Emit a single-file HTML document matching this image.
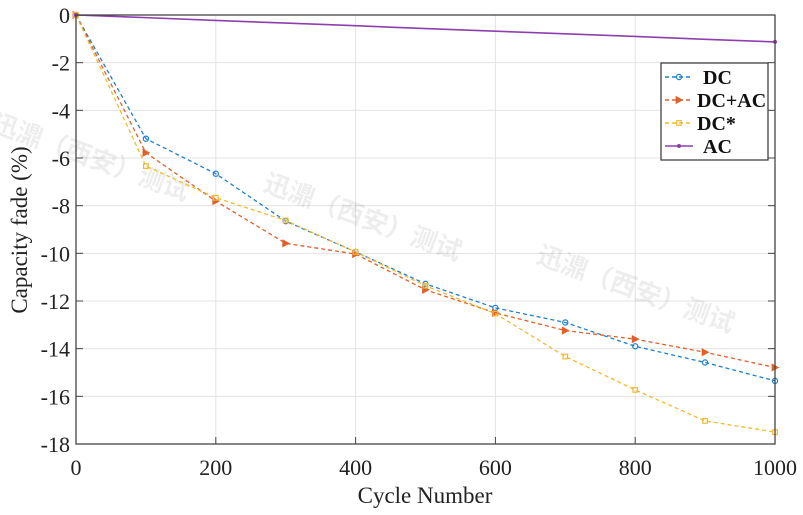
<!DOCTYPE html>
<html><head><meta charset="utf-8"><style>
body{margin:0;background:#fff;width:803px;height:515px;overflow:hidden}
svg{display:block;font-family:"Liberation Serif",serif}
</style></head><body>
<svg id="chart" width="803" height="515" viewBox="0 0 803 515">
<g id="grid"></g>
<g id="wm" font-family="'Liberation Sans','Noto Sans CJK SC',sans-serif" font-weight="bold" font-size="26" fill="#000" fill-opacity="0.07">
<text transform="translate(-10,130) rotate(20)">迅濎（西安）测试</text>
<text transform="translate(262,190) rotate(20)">迅濎（西安）测试</text>
<text transform="translate(535,262) rotate(20)">迅濎（西安）测试</text>
</g>
<g id="series"></g>
<rect x="76" y="15" width="699" height="429" fill="none" stroke="#444" stroke-width="1.3"/>
<g id="ticks" font-size="22" fill="#222"></g>
<text x="425" y="503" text-anchor="middle" font-size="23" fill="#222">Cycle Number</text>
<text transform="translate(27,230) rotate(-90)" text-anchor="middle" font-size="23" fill="#222">Capacity fade (%)</text>
<g id="legend"></g>
</svg>
<script>
const cycles=[0,100,200,300,400,500,600,700,800,900,1000];
const dcVals=[0,-5.19,-6.66,-8.65,-9.94,-11.28,-12.29,-12.9,-13.9,-14.58,-15.35];
const dcacVals=[0,-5.78,-7.81,-9.58,-10.03,-11.53,-12.5,-13.24,-13.6,-14.15,-14.79];
const dcStarVals=[0,-6.34,-7.67,-8.62,-9.94,-11.36,-12.53,-14.33,-15.73,-17.03,-17.5];
const acVals=[0,-0.11,-0.23,-0.34,-0.45,-0.57,-0.68,-0.79,-0.9,-1.02,-1.13];
const xTicks=[0,200,400,600,800,1000];
const yTicks=[0,-2,-4,-6,-8,-10,-12,-14,-16,-18];
const seriesNames=["DC","DC+AC","DC*","AC"];
const NS="http://www.w3.org/2000/svg";
const L=76,R=775,T=15,B=444;
const sx=v=>L+(v/1000)*(R-L);
const sy=v=>T+(v/-18)*(B-T);
function mk(tag,attrs,parent){const e=document.createElementNS(NS,tag);for(const k in attrs)e.setAttribute(k,attrs[k]);parent.appendChild(e);return e;}
const grid=document.getElementById('grid'),ticks=document.getElementById('ticks'),ser=document.getElementById('series'),leg=document.getElementById('legend');
xTicks.forEach(v=>{
 const g=mk('line',{x1:sx(v),x2:sx(v),y1:T,y2:B,stroke:'#e3e3e3','stroke-width':1},grid);
 
 
 const t=mk('line',{x1:sx(v),x2:sx(v),y1:B,y2:B-7,stroke:'#444'},ticks);
 
 
 const lb=mk('text',{x:sx(v),y:B+31,'text-anchor':'middle'},ticks);lb.textContent=v;
 
 
});
yTicks.forEach(v=>{
 const g=mk('line',{x1:L,x2:R,y1:sy(v),y2:sy(v),stroke:'#e3e3e3','stroke-width':1},grid);
 
 
 const t=mk('line',{x1:L,x2:L+7,y1:sy(v),y2:sy(v),stroke:'#444'},ticks);
 
 
 const t2=mk('line',{x1:R,x2:R-7,y1:sy(v),y2:sy(v),stroke:'#444'},ticks);
 
 
 const lb=mk('text',{x:L-6,y:sy(v)+8,'text-anchor':'end'},ticks);lb.textContent=v;
 
 
});
const colors=['#1f7fd0','#e0602a','#f0bb30','#8e3fae'];
const data=[dcVals,dcacVals,dcStarVals,acVals];
const markers=['circle','tri','square','dot'];
function marker(type,x,y,c,p){
 let m;
 if(type==='circle')m=mk('circle',{cx:x,cy:y,r:2.6,fill:'none',stroke:c,'stroke-width':1.2},p);
 else if(type==='tri')m=mk('polygon',{points:`${x-3},${y-3.5} ${x+3.5},${y} ${x-3},${y+3.5}`,fill:c,stroke:c,'stroke-width':0.8},p);
 else if(type==='square')m=mk('rect',{x:x-2.3,y:y-2.3,width:4.6,height:4.6,fill:'none',stroke:c,'stroke-width':1.2},p);
 else m=mk('circle',{cx:x,cy:y,r:2,fill:c},p);
 return m;
}
data.forEach((vals,i)=>{
 const g=mk('g',{},ser);
 
 
 const pts=vals.map((v,j)=>sx(cycles[j])+','+sy(v)).join(' ');
 const pl=mk('polyline',{points:pts,fill:'none',stroke:colors[i],'stroke-width':i===3?1.6:1.3,'stroke-dasharray':i===3?'none':'4,3'},g);
 
 
 vals.forEach((v,j)=>{
  if(i===3 && j!==0 && j!==vals.length-1) return;
  const m=marker(markers[i],sx(cycles[j]),sy(v),colors[i],g);
  
  
 });
});
const lx=661,ly=63;
const box=mk('rect',{x:lx,y:ly,width:107,height:97,fill:'#fff',stroke:'#333','stroke-width':1.2},leg);


seriesNames.forEach((n,i)=>{
 const y=ly+14+i*23;
 const g=mk('g',{},leg);
 
 
 mk('line',{x1:lx+4,x2:lx+32,y1:y,y2:y,stroke:colors[i],'stroke-width':1.4,'stroke-dasharray':i===3?'none':'4,3'},g);
 marker(markers[i],lx+18,y,colors[i],g);
 const t=mk('text',{x:i===0||i===3?lx+42:lx+36,y:y+7,'font-size':20,'font-weight':'bold',fill:'#111'},g);
 t.textContent=n;
});
</script>
</body></html>
